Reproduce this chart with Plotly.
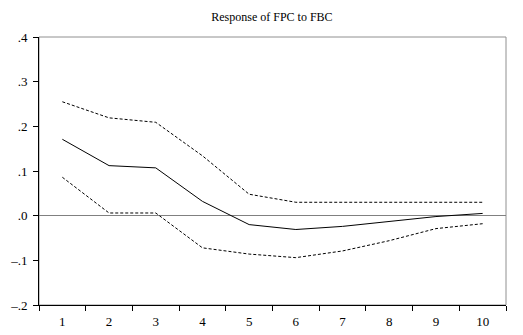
import plotly.graph_objects as go

# Impulse response of FPC to a shock in FBC, with +/- 2 S.E. bands
periods = ["1", "2", "3", "4", "5", "6", "7", "8", "9", "10"]
response = [0.171, 0.112, 0.107, 0.032, -0.020, -0.031, -0.024, -0.013, -0.002, 0.005]
upper_band = [0.255, 0.219, 0.209, 0.134, 0.048, 0.030, 0.030, 0.030, 0.030, 0.030]
lower_band = [0.086, 0.006, 0.006, -0.072, -0.086, -0.094, -0.079, -0.056, -0.029, -0.018]

y_tick_vals = [0.4, 0.3, 0.2, 0.1, 0.0, -0.1, -0.2]
y_tick_text = [".4", ".3", ".2", ".1", ".0", "\u2013.1", "\u2013.2"]

font_family = "Times New Roman, Liberation Serif, serif"

fig = go.Figure()
fig.add_trace(go.Scatter(x=periods, y=upper_band, mode="lines",
                         line=dict(color="black", width=1, dash="3px,2px")))
fig.add_trace(go.Scatter(x=periods, y=response, mode="lines",
                         line=dict(color="black", width=1)))
fig.add_trace(go.Scatter(x=periods, y=lower_band, mode="lines",
                         line=dict(color="black", width=1, dash="3px,2px")))

fig.update_layout(
    width=523, height=335,
    margin=dict(l=39, r=17, t=37, b=30),
    paper_bgcolor="white", plot_bgcolor="white",
    showlegend=False,
    font=dict(family=font_family, size=13, color="black"),
    title=dict(text="Response of FPC to FBC", x=0.52, xanchor="center",
               y=1 - 17 / 335, yanchor="middle",
               font=dict(family=font_family, size=12, color="black")),
    xaxis=dict(type="category", tickson="boundaries", ticks="outside",
               ticklen=5, tickwidth=1, tickcolor="black",
               showline=True, linecolor="black", linewidth=1,
               showgrid=False, range=[-0.5, 9.5], ticklabelstandoff=4,
               automargin=False,
               tickfont=dict(family=font_family, size=13)),
    yaxis=dict(range=[-0.2, 0.4], tickvals=y_tick_vals, ticktext=y_tick_text,
               ticks="outside", ticklen=5, tickwidth=1, tickcolor="black",
               showline=True, linecolor="black", linewidth=1,
               showgrid=False, zeroline=True, zerolinecolor="#808080",
               zerolinewidth=1, ticklabelstandoff=3, automargin=False,
               tickfont=dict(family=font_family, size=13)),
    shapes=[dict(type="rect", xref="paper", yref="paper", x0=0, x1=1, y0=0, y1=1,
                 line=dict(color="#909090", width=1), layer="below")],
)

fig.write_html("out.html")
